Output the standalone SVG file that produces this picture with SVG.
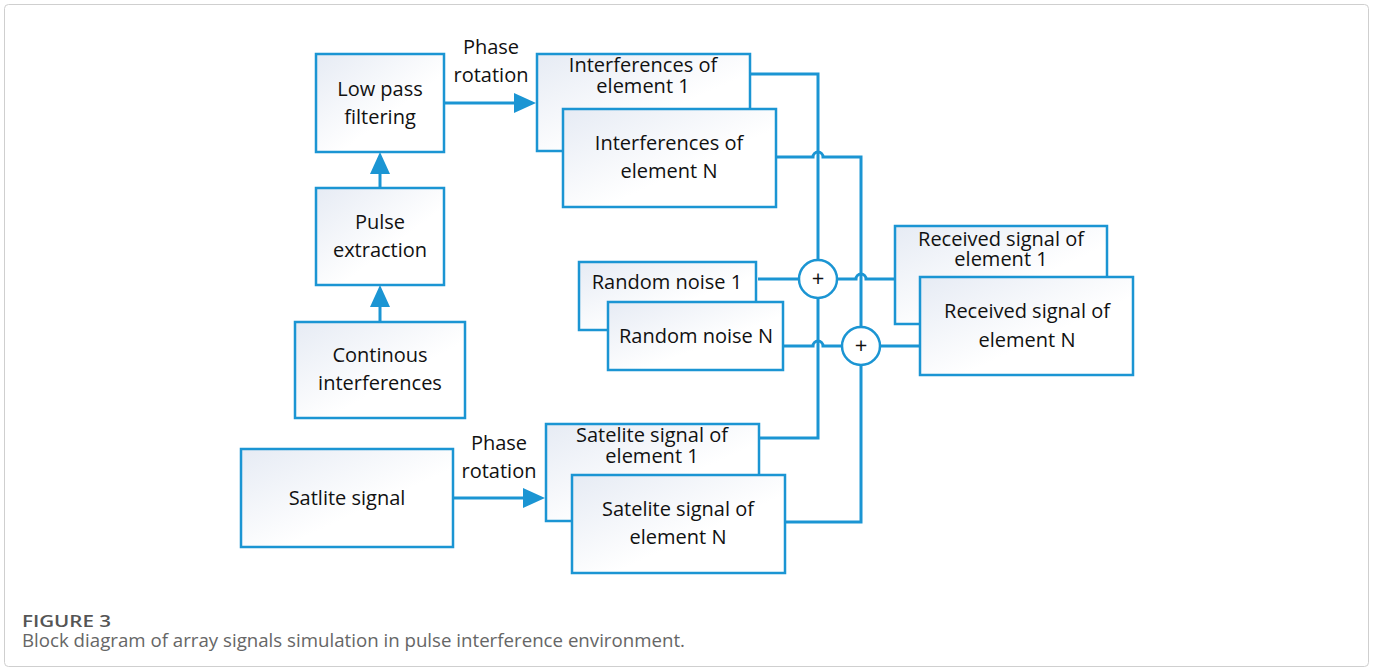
<svg xmlns="http://www.w3.org/2000/svg" width="1373" height="672" viewBox="0 0 1373 672">
<style>
.box{fill:url(#bg);stroke:#1b95d3;stroke-width:2.5}
.t{font-family:"Open Sans","Noto Sans",sans-serif;font-size:20px;fill:#111;text-anchor:middle}
.lbl{font-family:"Open Sans","Noto Sans",sans-serif;font-size:20px;fill:#111;text-anchor:middle}
.c{fill:none;stroke:#1b95d3;stroke-width:3}
.sum{fill:#fff;stroke:#1b95d3;stroke-width:2.5}
.plus{font-family:"Open Sans","Noto Sans",sans-serif;font-size:22px;fill:#111;text-anchor:middle}
.cap1{font-family:"Open Sans","Noto Sans",sans-serif;font-size:16px;fill:#555;font-weight:600}
.cap2{font-family:"Open Sans","Noto Sans",sans-serif;font-size:18px;fill:#666}
</style>
<defs>
<linearGradient id="bg" x1="0" y1="0" x2="1" y2="1">
<stop offset="0" stop-color="#e6ebf4"/>
<stop offset="0.6" stop-color="#ffffff"/>
<stop offset="1" stop-color="#ffffff"/>
</linearGradient>
<marker id="ah" viewBox="0 0 22 20" refX="4" refY="10" markerWidth="22" markerHeight="20" markerUnits="userSpaceOnUse" orient="auto">
<path d="M0,0 L22,10 L0,20 z" fill="#1b95d3"/>
</marker>
</defs>
<rect x="4.5" y="4.5" width="1364" height="662" rx="4" fill="#fff" stroke="#cfcfcf" stroke-width="1"/>

<g id="connectors">
<line class="c" x1="444" y1="103" x2="518" y2="103" marker-end="url(#ah)"/>
<line class="c" x1="380" y1="188" x2="380" y2="170" marker-end="url(#ah)"/>
<line class="c" x1="380" y1="322" x2="380" y2="303" marker-end="url(#ah)"/>
<line class="c" x1="453" y1="498" x2="527" y2="498" marker-end="url(#ah)"/>
<path class="c" d="M750,74 H818 V260"/>
<path class="c" d="M776,157 H813 A5,5 0 0 1 823,157 H861 V327"/>
<path class="c" d="M758,279 H799"/>
<path class="c" d="M783,346 H813 A5,5 0 0 1 823,346 H842"/>
<path class="c" d="M837,279 H856 A5,5 0 0 1 866,279 H895"/>
<path class="c" d="M880,346 H920"/>
<path class="c" d="M759,438 H818 V298"/>
<path class="c" d="M785,522 H861 V365"/>
<text class="lbl" x="491" y="54">Phase</text>
<text class="lbl" x="491" y="82">rotation</text>
<text class="lbl" x="499" y="450">Phase</text>
<text class="lbl" x="499" y="478">rotation</text>
</g>

<g id="lowpass">
<rect class="box" x="316" y="54" width="128" height="98"/>
<text class="t" x="380" y="96">Low pass</text>
<text class="t" x="380" y="124">filtering</text>
</g>
<g id="pulse">
<rect class="box" x="316" y="188" width="128" height="97"/>
<text class="t" x="380" y="229">Pulse</text>
<text class="t" x="380" y="257">extraction</text>
</g>
<g id="continuous">
<rect class="box" x="295" y="322" width="170" height="96"/>
<text class="t" x="380" y="362">Continous</text>
<text class="t" x="380" y="390">interferences</text>
</g>
<g id="interf1">
<rect class="box" x="537" y="54" width="213" height="97"/>
<text class="t" x="643" y="72">Interferences of</text>
<text class="t" x="643" y="93">element 1</text>
</g>
<g id="interfN">
<rect class="box" x="563" y="109" width="213" height="98"/>
<text class="t" x="669" y="150">Interferences of</text>
<text class="t" x="669" y="178">element N</text>
</g>
<g id="noise1">
<rect class="box" x="579" y="262" width="177" height="68"/>
<text class="t" x="667" y="289">Random noise 1</text>
</g>
<g id="noiseN">
<rect class="box" x="608" y="302" width="175" height="68"/>
<text class="t" x="696" y="343">Random noise N</text>
</g>
<g id="sum1">
<circle class="sum" cx="818" cy="279" r="19"/>
<text class="plus" x="818" y="286">+</text>
</g>
<g id="sum2">
<circle class="sum" cx="861" cy="346" r="19"/>
<text class="plus" x="861" y="353">+</text>
</g>
<g id="recv1">
<rect class="box" x="895" y="226" width="212" height="98"/>
<text class="t" x="1001" y="246">Received signal of</text>
<text class="t" x="1001" y="266">element 1</text>
</g>
<g id="recvN">
<rect class="box" x="920" y="277" width="213" height="98"/>
<text class="t" x="1027" y="318">Received signal of</text>
<text class="t" x="1027" y="347">element N</text>
</g>
<g id="satlite">
<rect class="box" x="241" y="449" width="212" height="98"/>
<text class="t" x="347" y="505">Satlite signal</text>
</g>
<g id="sat1">
<rect class="box" x="546" y="424" width="213" height="97"/>
<text class="t" x="652" y="442">Satelite signal of</text>
<text class="t" x="652" y="463">element 1</text>
</g>
<g id="satN">
<rect class="box" x="572" y="475" width="213" height="98"/>
<text class="t" x="678" y="516">Satelite signal of</text>
<text class="t" x="678" y="544">element N</text>
</g>

<g id="caption">
<text class="cap1" x="22" y="627" textLength="89" lengthAdjust="spacingAndGlyphs">FIGURE 3</text>
<text class="cap2" x="22" y="647" textLength="663" lengthAdjust="spacingAndGlyphs">Block diagram of array signals simulation in pulse interference environment.</text>
</g>
</svg>
